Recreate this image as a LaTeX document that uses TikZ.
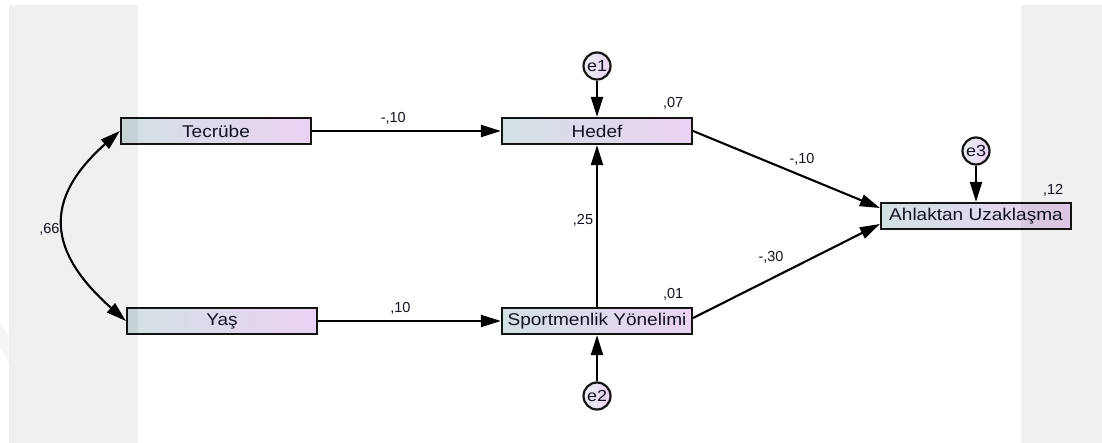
\documentclass[tikz,border=0pt]{standalone}
\usepackage{fontspec}
\setmainfont{Liberation Sans}
\newfontfamily\boxfont{Liberation Sans}[FakeStretch=1.12]
\usetikzlibrary{arrows.meta,calc}

\definecolor{inkc}{HTML}{141414}
\definecolor{txtc}{HTML}{121222}
\definecolor{gradL}{RGB}{210,225,227}
\definecolor{gradR}{RGB}{234,210,243}

\begin{document}
\begin{tikzpicture}[x=1pt,y=-1pt,
  varbox/.style={draw=inkc, line width=2.2pt, left color=gradL, right color=gradR,
    minimum width=190pt, minimum height=26pt, inner sep=0pt, text=txtc,
    font=\boxfont\fontsize{17}{20}\selectfont},
  errc/.style={circle, draw=inkc, line width=2.2pt, left color=gradL!50!white, right color=gradR,
    minimum size=27pt, inner sep=0pt, text=txtc,
    font=\boxfont\fontsize{16}{18}\selectfont},
  conn/.style={draw=black, line width=2.1pt, -{Triangle[length=20pt,width=12pt]}},
  biconn/.style={draw=black, line width=2.1pt,
    {Triangle[length=20pt,width=12pt]}-{Triangle[length=20pt,width=12pt]}},
  coef/.style={text=txtc, font=\fontsize{14.5}{16}\selectfont, inner sep=0pt},
]
\useasboundingbox (0,0) rectangle (1102,443);
\fill[white] (0,0) rectangle (1102,443);
\fill[black!4] (0,322) -- (9,336) -- (9,362) -- (0,348) -- cycle;

% observed variables
\node[varbox] (tec) at (216,131) {Tecrübe};
\node[varbox] (yas) at (222,321) {Yaş};
\node[varbox] (hed) at (597,131) {Hedef};
\node[varbox] (spo) at (597,321) {Sportmenlik Yönelimi};
\node[varbox] (ahl) at (976,216) {Ahlaktan Uzaklaşma};

% error terms
\node[errc] (e1) at (597,66) {e1};
\node[errc] (e2) at (597,396) {e2};
\node[errc] (e3) at (976,151) {e3};

% squared multiple correlations
\node[coef] (r1) at ($(hed.north east)+(-20,-14)$) {,07};
\node[coef] (r2) at ($(spo.north east)+(-20,-13)$) {,01};
\node[coef] (r3) at ($(ahl.north east)+(-19,-12)$) {,12};

% covariance between exogenous variables
\draw[biconn] (tec.west) .. controls (42,200) and (48,252) .. (yas.west)
  node[coef, pos=.5, xshift=-15pt, yshift=-3pt] (c66) {,66};

% regression paths
\draw[conn] (tec.east) -- (hed.west)
  node[coef, pos=.43, yshift=13pt] (b1) {-,10};
\draw[conn] (yas.east) -- (spo.west)
  node[coef, pos=.45, yshift=13pt] (b2) {,10};
\draw[conn] (spo.north) -- (hed.south)
  node[coef, pos=.537, xshift=-14pt] (b3) {,25};
\draw[conn] (hed.east) -- ($(ahl.west)+(0,-8)$)
  node[coef, pos=.583, yshift=17pt] (b4) {-,10};
\draw[conn] ($(spo.east)+(0,-3)$) -- ($(ahl.west)+(0,8)$)
  node[coef, pos=.417, yshift=21pt] (b5) {-,30};

% error paths
\draw[conn] (e1) -- (hed.north);
\draw[conn] (e2) -- (spo.south);
\draw[conn] (e3) -- (ahl.north);

% side panels
\fill[black, fill opacity=0.06] (9,5) rectangle (138,443);
\fill[black, fill opacity=0.06] (1021,5) rectangle (1102,443);
\end{tikzpicture}
\end{document}
